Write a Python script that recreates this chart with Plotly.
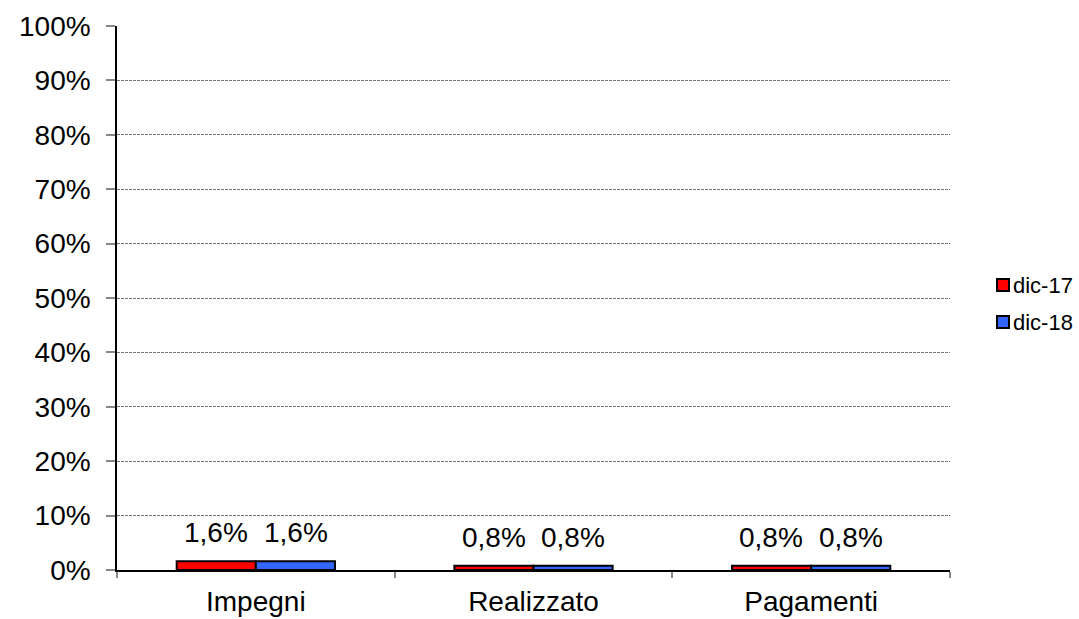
import plotly.graph_objects as go

categories = ["Impegni", "Realizzato", "Pagamenti"]
series_names = ["dic-17", "dic-18"]
dic17 = [0.016, 0.008, 0.008]
dic18 = [0.016, 0.008, 0.008]
y_ticks = [i / 10 for i in range(11)]
colors = ["#FF0000", "#3366FF"]

FONT = "Liberation Sans, Arial, Helvetica, sans-serif"
W, H = 1079, 619
ML, MR, MT, MB = 117, 129, 26, 49
PW, PH = W - ML - MR, H - MT - MB

fig = go.Figure()
for name, vals, col in zip(series_names, [dic17, dic18], colors):
    fig.add_trace(go.Bar(
        x=categories, y=vals, name=name,
        marker=dict(color=col, line=dict(color="#000000", width=2)),
    ))

# data labels above each bar (Italian decimal comma)
bar_px = 79.5
for i, vals in enumerate([dic17, dic18]):
    shift = (-0.5 + i) * bar_px
    for c, v in zip(categories, vals):
        fig.add_annotation(
            x=c, y=v, xref="x", yref="y", text=f"{v*100:.1f}%".replace(".", ","),
            showarrow=False, xshift=shift, yanchor="bottom", yshift=11,
            font=dict(size=28, color="#000000", family=FONT),
        )

# legend drawn manually (pixel positions)
leg_y = [285, 322]
for name, col, yc in zip(series_names, colors, leg_y):
    fig.add_shape(type="rect", xref="paper", yref="paper",
                  x0=(997 - ML) / PW, x1=(1009 - ML) / PW,
                  y0=(H - MB - (yc + 6)) / PH, y1=(H - MB - (yc - 6)) / PH,
                  fillcolor=col, line=dict(color="#000000", width=2))
    fig.add_annotation(xref="paper", yref="paper",
                       x=(1011 - ML) / PW, y=(H - MB - yc) / PH,
                       xanchor="left", yanchor="middle", showarrow=False,
                       text=name, font=dict(size=22, color="#000000", family=FONT))

fig.update_layout(
    width=W, height=H,
    margin=dict(l=ML, r=MR, t=MT, b=MB, autoexpand=False),
    paper_bgcolor="white", plot_bgcolor="white",
    font=dict(family=FONT, color="#000000", size=28),
    barmode="group", bargap=0.43, bargroupgap=0,
    showlegend=False,
)
fig.update_xaxes(
    showline=True, linecolor="#000000", linewidth=1.5,
    ticks="outside", tickson="boundaries", ticklen=6, tickcolor="#888888", tickwidth=1.5,
    tickfont=dict(size=28), showgrid=False, automargin=False,
    ticklabelstandoff=6,
)
fig.update_yaxes(
    range=[0, 1], tickvals=y_ticks, tickformat=".0%",
    showline=True, linecolor="#000000", linewidth=1.5,
    ticks="outside", ticklen=9, tickcolor="#888888", tickwidth=1.5,
    showgrid=True, gridcolor="#777777", griddash="3px,1px", gridwidth=1,
    tickfont=dict(size=28), zeroline=False, automargin=False,
    ticklabelstandoff=10,
)

fig.write_html(
    "out.html",
    config={"displayModeBar": False},
    post_script="document.body.style.margin='0';document.body.style.overflow='hidden';",
)
